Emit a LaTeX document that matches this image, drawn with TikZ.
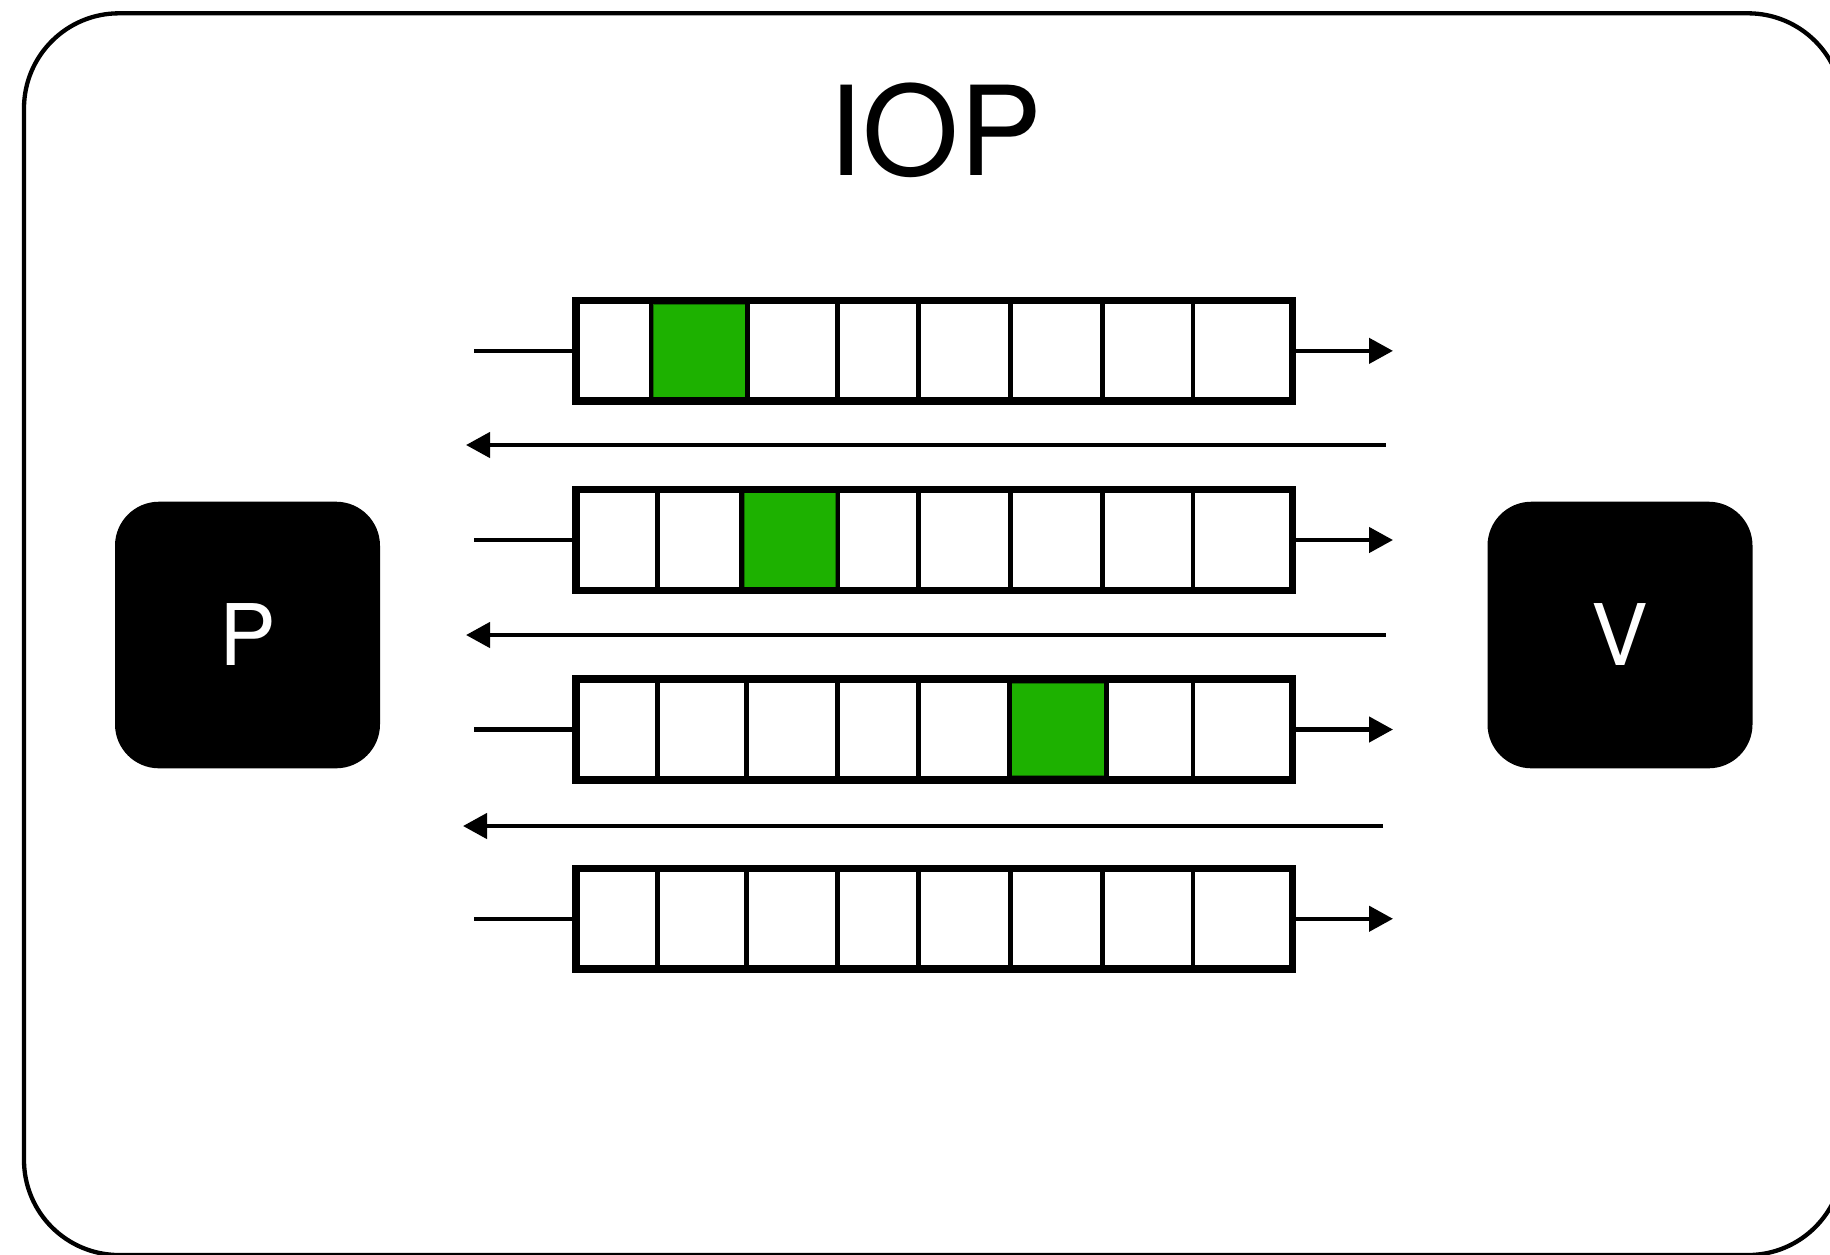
\documentclass[tikz,border=0pt]{standalone}
\usepackage{fontspec}
\setmainfont{TeX Gyre Heros}
\usetikzlibrary{arrows.meta}
\definecolor{cellgreen}{RGB}{29,177,0}
\definecolor{celledge}{RGB}{18,110,0}
\begin{document}
\begin{tikzpicture}[x=1pt,y=-1pt,
  frame/.style={draw=black,line width=4.3pt,rounded corners=95pt},
  bar/.style={draw=black,fill=white,line width=7.5pt,minimum width=716.5pt,
    minimum height=100.7pt,inner sep=0pt,outer sep=0pt},
  divider/.style={draw=black,line width=4.8pt},
  filled/.style={fill=cellgreen,draw=celledge,line width=1pt},
  stub/.style={draw=black,line width=4.5pt},
  flow/.style={draw=black,line width=4.5pt,-{Triangle[length=24pt,width=25pt]}},
  party/.style={fill=black,text=white,rounded corners=44pt,minimum width=265pt,
    minimum height=266.6pt,inner sep=0pt,font=\fontsize{85}{85}\selectfont},
  title/.style={font=\fontsize{124}{124}\selectfont,inner sep=0pt}
]
% canvas
\useasboundingbox (0,0) rectangle (1830,1254);
\clip (0,0) rectangle (1830,1254);
\fill[white] (0,0) rectangle (1830,1254);

% outer frame
\draw[frame] (24,13.3) rectangle (1843,1255);

% title
\node[title,anchor=base] (label) at (935,175) {IOP};

% prover and verifier
\node[party] (prover) at (247.5,635) {P};
\node[party] (verifier) at (1620,635) {V};

% four rows of cells
\node[bar] (q1) at (934.25,350.85) {};
\node[bar] (q2) at (934.25,540) {};
\node[bar] (q3) at (934.25,729.5) {};
\node[bar] (q4) at (934.25,918.75) {};

% highlighted cells
\draw[filled] (653.4,304.3) rectangle (745.2,397.4);
\draw[filled] (744.2,491.7) rectangle (835.6,588.7);
\draw[filled] (1011.7,683.3) rectangle (1104,775.3);

% cell dividers
\foreach \x in {651,747.6,837.5,918.4,1010.7,1102.6,1193}
  \draw[divider] (\x,300.5) -- (\x,401.2);
\foreach \x in {657.6,741.8,838,918.4,1010.7,1102.6,1193}
  \draw[divider] (\x,489.5) -- (\x,590.5);
\foreach \x in {657.6,746.6,837.5,918.4,1009.3,1106.4,1193}
  \draw[divider] (\x,678.8) -- (\x,780.2);
\foreach \x in {657.6,746.6,837.5,918.4,1010.7,1102.6,1193}
  \draw[divider] (\x,868) -- (\x,969.5);

% redraw row borders over dividers
\foreach \r in {q1,q2,q3,q4}
  \draw[line width=7.5pt] (\r.north west) rectangle (\r.south east);

% inputs and outputs of each row
\coordinate (in1) at (474,350.85);  \coordinate (out1) at (1393,350.85);
\coordinate (in2) at (474,540);     \coordinate (out2) at (1393,540);
\coordinate (in3) at (474,729.5);   \coordinate (out3) at (1393,729.5);
\coordinate (in4) at (474,918.75);  \coordinate (out4) at (1393,918.75);
\foreach \i in {1,2,3,4}{
  \draw[stub] (in\i) -- (q\i.west);
  \draw[flow] (q\i.east) -- (out\i);
}

% messages returned between rows
\coordinate (rs1) at (1385.5,445);  \coordinate (re1) at (466,445);
\coordinate (rs2) at (1385.5,635);  \coordinate (re2) at (466,635);
\coordinate (rs3) at (1383,826);    \coordinate (re3) at (463,826);
\foreach \i in {1,2,3}
  \draw[flow] (rs\i) -- (re\i);
\end{tikzpicture}
\end{document}
